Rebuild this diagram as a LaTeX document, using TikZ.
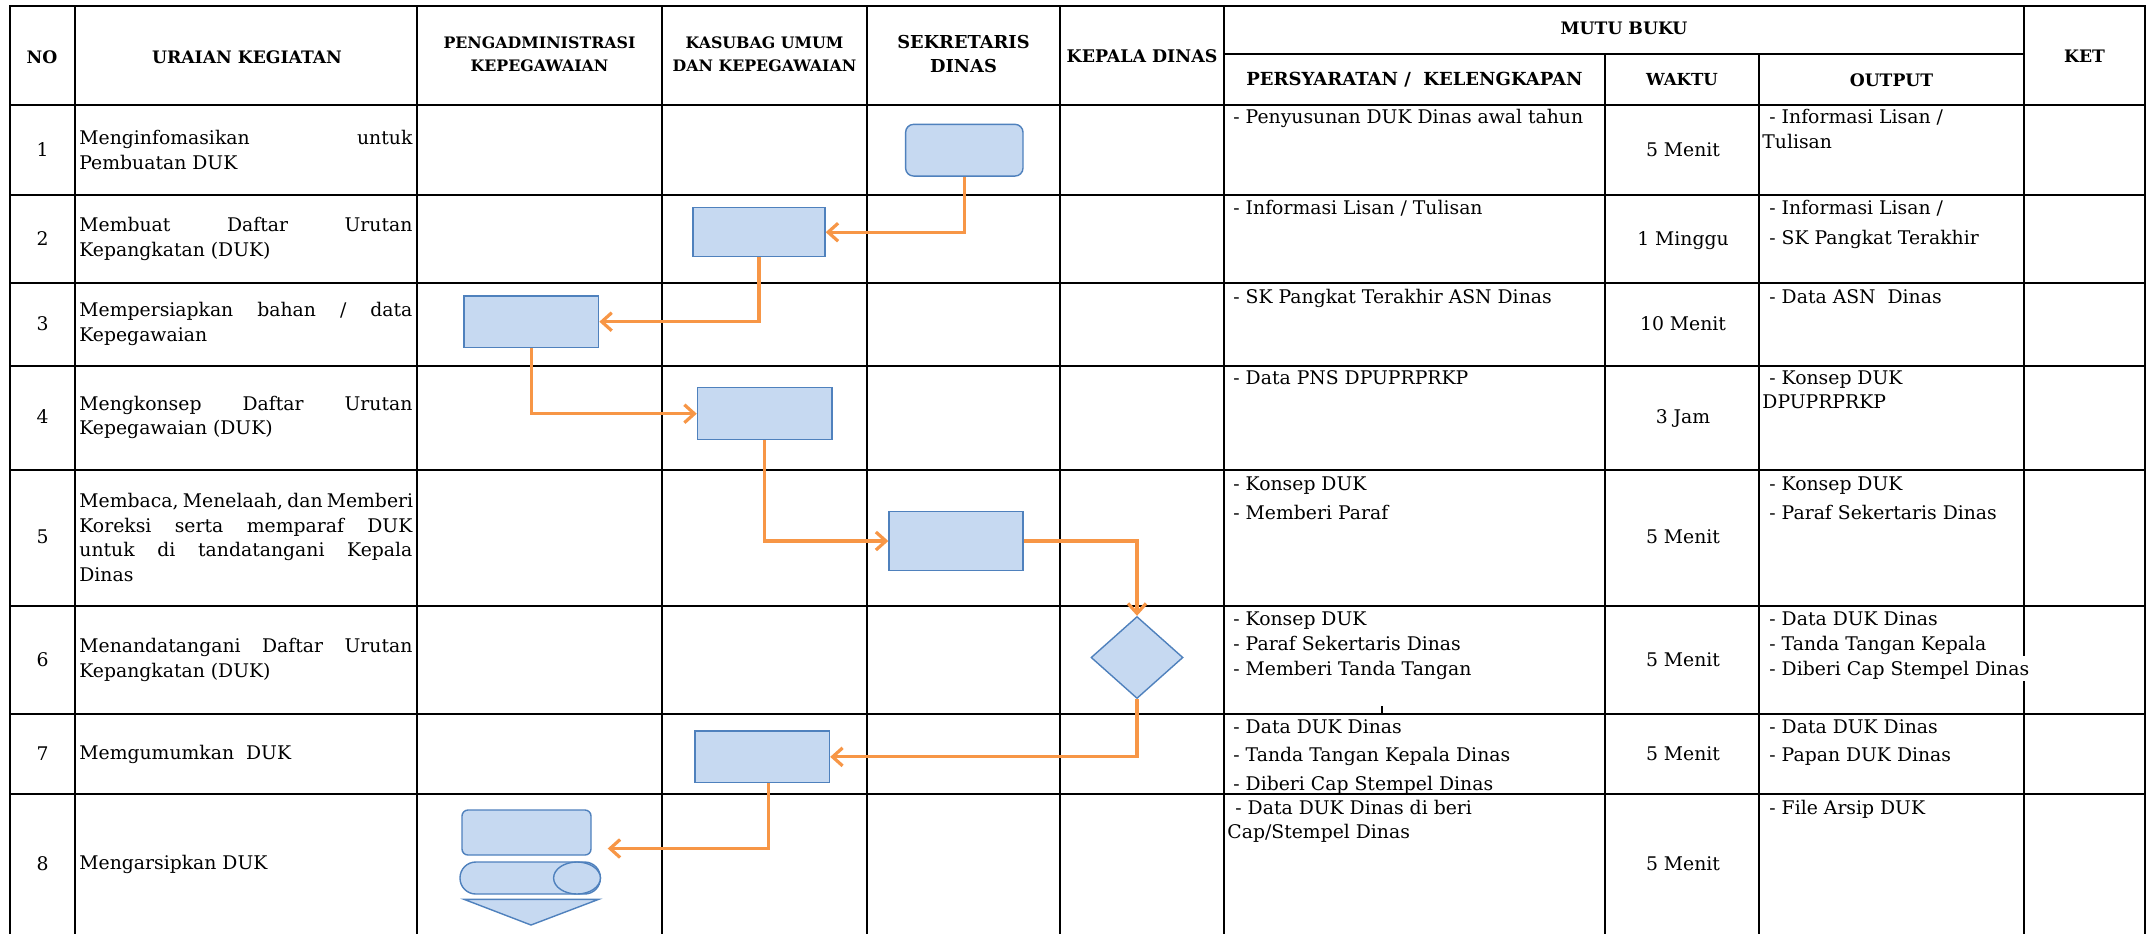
\documentclass[tikz,border=0pt]{standalone}
\usepackage{fontspec}
\setmainfont{DejaVu Serif}
\usetikzlibrary{arrows.meta,shapes.geometric}
\definecolor{boxfill}{HTML}{C6D9F1}
\definecolor{boxline}{HTML}{4F81BD}
\definecolor{flow}{HTML}{F79646}
\newcommand\cellfont{\fontsize{9.4}{12.2}\selectfont}
\newcommand\jline[1]{\makebox[166.5pt][s]{#1}}
\newcommand\hdsize[1]{\bfseries\fontsize{#1}{11.7}\selectfont}

\begin{document}
\begin{tikzpicture}[x=0.5pt,y=-0.5pt,
  grid/.style={line width=1.1pt,black,line cap=rect},
  hd/.style={font=\hdsize{8.6}, align=center, inner sep=0pt},
  cell/.style={font=\cellfont, inner sep=0pt, anchor=base west},
  mid/.style={font=\cellfont, inner sep=0pt, anchor=base},
  task/.style={font=\cellfont, inner sep=0pt, anchor=west, align=left},
  proc/.style={draw=boxline, fill=boxfill, line width=0.7pt, inner sep=0pt},
  flowline/.style={draw=flow, line width=1.6pt, -{Straight Barb[length=5pt,width=9pt]}},
]
\useasboundingbox (0,0) rectangle (2151,933);
\fill[white] (0,0) rectangle (2151,933);

% table rules
\foreach \y in {6,105,195,283,366,470,606,714,794}
  \draw[grid] (10,\y) -- (2145,\y);
\draw[grid] (1224,54) -- (2024,54);
\foreach \x in {10,75,417,662,867,1060,1224,2145}
  \draw[grid] (\x,6) -- (\x,933);
\draw[grid] (1605,54) -- (1605,933);
\draw[grid] (1759,54) -- (1759,933);
\draw[grid] (2024,6) -- (2024,655);
\draw[grid] (2024,682) -- (2024,933);
\draw[line width=0.8pt] (1382,706) -- (1382,714);

% column headings
\node[hd] (hNo) at (42,57) {NO};
\node[hd] (hUr) at (247,57) {URAIAN KEGIATAN};
\node[hd, font=\hdsize{7.9}] (hPg) at (539.5,54) {PENGADMINISTRASI\\KEPEGAWAIAN};
\node[hd, font=\hdsize{7.9}] (hKs) at (764.5,54) {KASUBAG UMUM\\DAN KEPEGAWAIAN};
\node[hd, font=\hdsize{8.9}] (hSk) at (963.5,54) {SEKRETARIS\\DINAS};
\node[hd, font=\hdsize{8.7}] (hKd) at (1142,56) {KEPALA DINAS};
\node[hd] (hMutu) at (1624,28) {MUTU BUKU};
\node[hd, font=\hdsize{9}] (hPers) at (1414.5,80) {PERSYARATAN /\ \ KELENGKAPAN};
\node[hd, font=\hdsize{8.3}] (hWaktu) at (1682,80) {WAKTU};
\node[hd] (hOut) at (1891.5,80) {OUTPUT};
\node[hd] (hKet) at (2084.5,56) {KET};

% row numbers
\foreach \n/\yc in {1/150,2/239,3/324,4/417.5,5/537.5,6/660,7/754,8/864}
  \node[mid] (no\n) at (42.5,\yc+6) {\n};

% activities
\node[task] (u1) at (79,150) {\jline{Menginfomasikan untuk}\\Pembuatan DUK};
\node[task] (u2) at (79,239) {\jline{Membuat Daftar Urutan}\\Kepangkatan (DUK)};
\node[task] (u3) at (79,324) {\jline{Mempersiapkan bahan / data}\\Kepegawaian};
\node[task] (u4) at (79,417.5) {\jline{Mengkonsep Daftar Urutan}\\Kepegawaian (DUK)};
\node[task] (u5) at (79,537.5) {\jline{Membaca, Menelaah, dan Memberi}\\\jline{Koreksi serta memparaf DUK}\\\jline{untuk di tandatangani Kepala}\\Dinas};
\node[task] (u6) at (79,660) {\jline{Menandatangani Daftar Urutan}\\Kepangkatan (DUK)};
\node[task] (u7) at (79,754) {Memgumumkan\ \ DUK};
\node[task] (u8) at (79,864) {Mengarsipkan DUK};

% requirements
\node[cell] (q1) at (1233,123) {- Penyusunan DUK Dinas awal tahun};
\node[cell] (q2) at (1233,214) {- Informasi Lisan / Tulisan};
\node[cell] (q3) at (1233,303) {- SK Pangkat Terakhir ASN Dinas};
\node[cell] (q4) at (1233,384) {- Data PNS DPUPRPRKP};
\node[cell] (q5a) at (1233,490) {- Konsep DUK};
\node[cell] (q5b) at (1233,519) {- Memberi Paraf};
\node[cell] (q6a) at (1233,625) {- Konsep DUK};
\node[cell] (q6b) at (1233,650) {- Paraf Sekertaris Dinas};
\node[cell] (q6c) at (1233,675) {- Memberi Tanda Tangan};
\node[cell] (q7a) at (1233,733) {- Data DUK Dinas};
\node[cell] (q7b) at (1233,761) {- Tanda Tangan Kepala Dinas};
\node[cell] (q7c) at (1233,790) {- Diberi Cap Stempel Dinas};
\node[cell] (q8a) at (1235,814) {- Data DUK Dinas di beri};
\node[cell] (q8b) at (1227,838) {Cap/Stempel Dinas};

% durations
\foreach \k/\yc/\t in {1/150/5 Menit,2/239/1 Minggu,3/324/10 Menit,4/417.5/3 Jam,5/537.5/5 Menit,6/660/5 Menit,7/754/5 Menit,8/864/5 Menit}
  \node[mid] (w\k) at (1683,\yc+6) {\t};

% outputs
\node[cell] (o1a) at (1769,123) {- Informasi Lisan /};
\node[cell] (o1b) at (1762,148) {Tulisan};
\node[cell] (o2a) at (1769,214) {- Informasi Lisan /};
\node[cell] (o2b) at (1769,244) {- SK Pangkat Terakhir};
\node[cell] (o3) at (1769,303) {- Data ASN\ \ Dinas};
\node[cell] (o4a) at (1769,384) {- Konsep DUK};
\node[cell] (o4b) at (1762,408) {DPUPRPRKP};
\node[cell] (o5a) at (1769,490) {- Konsep DUK};
\node[cell] (o5b) at (1769,519) {- Paraf Sekertaris Dinas};
\node[cell] (o6a) at (1769,625) {- Data DUK Dinas};
\node[cell] (o6b) at (1769,650) {- Tanda Tangan Kepala};
\node[cell] (o6c) at (1769,675) {- Diberi Cap Stempel Dinas};
\node[cell] (o7a) at (1769,733) {- Data DUK Dinas};
\node[cell] (o7b) at (1769,761) {- Papan DUK Dinas};
\node[cell] (o8) at (1769,814) {- File Arsip DUK};

% flow symbols
\node[proc, rounded corners=4pt, minimum width=58.7pt, minimum height=25.85pt] (s1) at (964.3,150.2) {};
\node[proc, minimum width=66pt, minimum height=24.5pt] (s2) at (759,232.2) {};
\node[proc, minimum width=67.35pt, minimum height=25.65pt] (s3) at (531.3,321.7) {};
\node[proc, minimum width=67.25pt, minimum height=26pt] (s4) at (764.7,413.7) {};
\node[proc, minimum width=67pt, minimum height=29.3pt] (s5) at (956,541) {};
\node[proc, diamond, minimum width=46pt, minimum height=41pt] (s6) at (1137,657.5) {};
\node[proc, minimum width=67.25pt, minimum height=25.85pt] (s7) at (762.25,756.85) {};
\node[proc, rounded corners=3pt, minimum width=64.5pt, minimum height=22.5pt] (s8) at (526.5,832.5) {};
\draw[proc, rounded corners=7.9pt] (460,862) rectangle (600.4,894);
\draw[proc] (577,878) ellipse [x radius=11.7pt, y radius=8pt];
\draw[proc] (464,899.3) -- (598.7,899.3) -- (531,925) -- cycle;

% connectors
\draw[flowline] (s1.south) |- (s2.east);
\draw[flowline] (s2.south) |- (s3.east);
\draw[flowline] (s3.south) |- (s4.west);
\draw[flowline] (s4.south) |- (s5.west);
\draw[flowline] (s5.east) -| (s6.north);
\draw[flowline] (s6.south) |- (s7.east);
\coordinate (s7out) at ([xshift=3pt]s7.south);
\coordinate (arcin) at ([xshift=8pt,yshift=-8pt]s8.east);
\draw[flowline] (s7out) |- (arcin);
\end{tikzpicture}
\end{document}
